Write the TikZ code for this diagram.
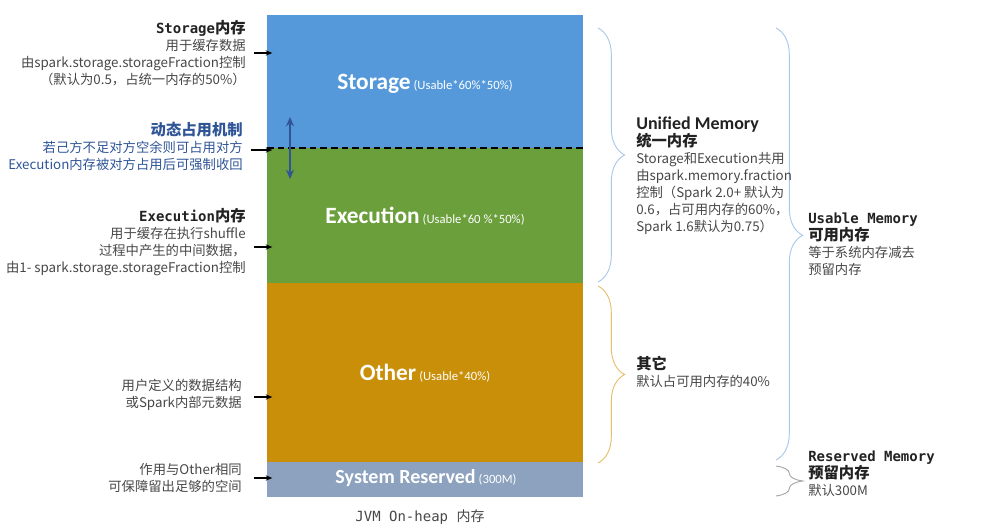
\documentclass[tikz,border=0pt]{standalone}
\usepackage{fontspec}
\setmainfont{Noto Sans CJK SC}
\newfontfamily\monof{DejaVu Sans Mono}
\newfontfamily\calib{Carlito}
\usepackage{tikz}
\usetikzlibrary{arrows.meta, decorations.pathreplacing, positioning}

\definecolor{stblue}{HTML}{5599DB}
\definecolor{exgreen}{HTML}{6A9F3B}
\definecolor{otgold}{HTML}{C98F08}
\definecolor{rsgray}{HTML}{8CA2BF}
\definecolor{txtgray}{HTML}{474747}
\definecolor{ttlblack}{HTML}{222222}
\definecolor{dynblue}{HTML}{2F5597}
\definecolor{brblue}{HTML}{A9C8EA}
\definecolor{brgold}{HTML}{E6BE6A}
\definecolor{brgray}{HTML}{A6A6A6}

% title line: mono latin + bold chinese
\newcommand{\ttl}[2]{{\color{ttlblack}{\monof\bfseries\fontsize{10.5}{13}\selectfont #1}{\fontsize{11.5}{13}\selectfont\bfseries #2}}}
\newcommand{\zht}[1]{{\color{ttlblack}\fontsize{11.5}{13}\selectfont\bfseries #1}}
\newcommand{\biglab}[1]{{\calib\bfseries\fontsize{17.5}{19}\selectfont #1}}
\newcommand{\smlab}[1]{{\calib\fontsize{9.5}{11}\selectfont #1}}

\begin{document}
\begin{tikzpicture}[x=0.75pt, y=-0.75pt,
    sect/.style={minimum width=237pt, inner sep=0pt, outer sep=0pt, text=white},
    lnote/.style={align=right, anchor=east, inner sep=0pt, text=txtgray,
        font=\fontsize{10}{12.75}\selectfont},
    rnote/.style={align=left, anchor=west, inner sep=0pt, text=txtgray,
        font=\fontsize{10}{12.75}\selectfont},
    pin/.style={-{Stealth[length=5pt, width=4pt]}, line width=0.9pt, black},
    brc/.style={decorate, decoration={brace, amplitude=20pt, aspect=#1}, line width=0.7pt},
    brc/.default=0.5]
    \useasboundingbox (0,0) rectangle (986,530);

    % --- 内存条 ---
    \node[sect, fill=stblue, minimum height=99.75pt] (storage) at (425,81.5) {};
    \node[sect, fill=exgreen, minimum height=101.25pt] (execution) at (425,215.5) {};
    \node[sect, fill=otgold, minimum height=134.25pt] (other) at (425,372.5) {};
    \node[sect, fill=rsgray, minimum height=26.25pt] (reserved) at (425,479.5) {};
    \node[text=white] (stlab) at (425,84) {\biglab{Storage} \smlab{(Usable*60\%*50\%)}};
    \node[text=white] (exlab) at (425,216) {\biglab{Execution} \smlab{(Usable*60 \%*50\%)}};
    \node[text=white] (otlab) at (425,373) {\biglab{Other} \smlab{(Usable*40\%)}};
    \node[text=white] (rslab) at (426,478)
        {{\calib\bfseries\fontsize{15}{17}\selectfont System Reserved} \smlab{(300M)}};
    \node[text=txtgray, font=\monof\fontsize{10.5}{12}\selectfont] (caption) at (420,517)
        {JVM On-heap {\rmfamily 内存}};

    % --- 动态占用分界 ---
    \draw[dashed, dash pattern=on 5pt off 3pt, line width=1.4pt]
        (storage.south west) -- (storage.south east);
    \coordinate (dtop) at (290,117);
    \coordinate (dbot) at (290,179);
    \draw[{Stealth[length=7pt, width=6pt]}-{Stealth[length=7pt, width=6pt]}, line width=1.4pt, dynblue] (dtop) -- (dbot);

    % --- 左侧说明 ---
    \node[lnote] (stnote) at (246,53)
        {\ttl{Storage}{内存}\\用于缓存数据\\由spark.storage.storageFraction控制\\（默认为0.5，占统一内存的50\%）};
    \node[lnote, text=dynblue] (dynnote) at (243,146.5)
        {{\fontsize{11.5}{13}\selectfont\bfseries 动态占用机制}\\若己方不足对方空余则可占用对方\\Execution内存被对方占用后可强制收回};
    \node[lnote] (exnote) at (246,242)
        {\ttl{Execution}{内存}\\用于缓存在执行shuffle\\过程中产生的中间数据，\\由1- spark.storage.storageFraction控制};
    \node[lnote] (otnote) at (242,395)
        {用户定义的数据结构\\或Spark内部元数据};
    \node[lnote] (rsnote) at (242,478)
        {作用与Other相同\\可保障留出足够的空间};

    % --- 指向箭头 ---
    \coordinate (pst) at (254,53);
    \coordinate (pdy) at (251,150);
    \coordinate (pex) at (254,247);
    \coordinate (pot) at (254,397);
    \coordinate (prs) at (254,478);
    \draw[pin] (pst) -- ([xshift=4pt]pst -| storage.west);
    \draw[pin] (pdy) -- ([xshift=4pt]pdy -| storage.west);
    \draw[pin] (pex) -- ([xshift=4pt]pex -| execution.west);
    \draw[pin] (pot) -- ([xshift=4pt]pot -| other.west);
    \draw[pin] (prs) -- ([xshift=4pt]prs -| reserved.west);

    % --- 右侧大括号 ---
    \coordinate (bu1) at (598,28);
    \coordinate (bu2) at (598,282);
    \coordinate (bo1) at (598,286);
    \coordinate (bo2) at (598,463);
    \coordinate (bv1) at (776,28);
    \coordinate (bv2) at (776,460);
    \coordinate (br1) at (776,466);
    \coordinate (br2) at (776,496);
    \draw[brc, brblue] (bu1) -- (bu2);
    \draw[brc, brgold] (bo1) -- (bo2);
    \draw[brc=0.48, brblue] (bv1) -- (bv2);
    \draw[brc, brgray] (br1) -- (br2);

    % --- 右侧说明 ---
    \node[rnote] (unnote) at (636,175.5)
        {{\color{ttlblack}\calib\bfseries\fontsize{13.5}{13}\selectfont Unified Memory}\\\zht{统一内存}\\Storage和Execution共用\\由spark.memory.fraction\\控制（Spark 2.0+ 默认为\\0.6，占可用内存的60\%，\\Spark 1.6默认为0.75）};
    \node[rnote] (otrnote) at (636,371.5)
        {\zht{其它}\\默认占可用内存的40\%};
    \node[rnote] (usnote) at (808,244)
        {\ttl{Usable Memory}{}\\\zht{可用内存}\\等于系统内存减去\\预留内存};
    \node[rnote] (rsrnote) at (808,474)
        {\ttl{Reserved Memory}{}\\\zht{预留内存}\\默认300M};
\end{tikzpicture}
\end{document}
